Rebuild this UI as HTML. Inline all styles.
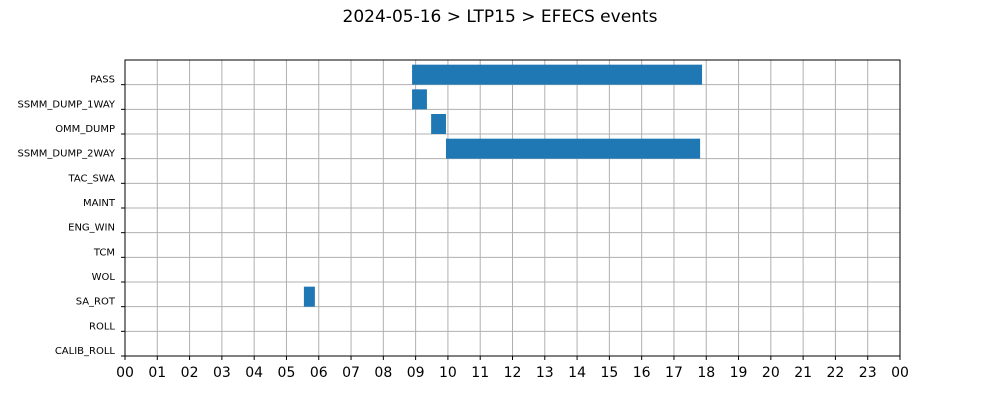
<!DOCTYPE html>
<html><head><meta charset="utf-8"><style>
body{margin:0;background:#fff;font-family:"Liberation Sans","DejaVu Sans",sans-serif;}
</style></head><body>
<svg id="chart" width="1000" height="400" xmlns="http://www.w3.org/2000/svg">
<text x="500" y="22" text-anchor="middle" font-size="17" font-family="DejaVu Sans, Liberation Sans, sans-serif">2024-05-16 &gt; LTP15 &gt; EFECS events</text>
<g id="grid"></g><g id="bars"></g><g id="axes"></g>
</svg>
<script>
const categories=["PASS","SSMM_DUMP_1WAY","OMM_DUMP","SSMM_DUMP_2WAY","TAC_SWA","MAINT","ENG_WIN","TCM","WOL","SA_ROT","ROLL","CALIB_ROLL"];
const eventCats=["PASS","SSMM_DUMP_1WAY","OMM_DUMP","SSMM_DUMP_2WAY","SA_ROT"];
const eventStart=[8.89,8.89,9.48,9.94,5.54];
const eventEnd=[17.87,9.35,9.94,17.81,5.88];
const xTicks=["00","01","02","03","04","05","06","07","08","09","10","11","12","13","14","15","16","17","18","19","20","21","22","23","00"];
const NS="http://www.w3.org/2000/svg";
const L=125,R=900,T=60,B=356;
const x=h=>L+(R-L)*h/24;
const step=(B-T)/categories.length;
const yTick=i=>T+step*(i+1);
function mk(tag,attrs,parent){const e=document.createElementNS(NS,tag);for(const k in attrs)e.setAttribute(k,attrs[k]);document.getElementById(parent).appendChild(e);return e;}
xTicks.forEach((t,i)=>{
 const l=mk("line",{x1:x(i),x2:x(i),y1:T,y2:B,stroke:"#b0b0b0","stroke-width":1},"grid");
 
 
 const tk=mk("line",{x1:x(i),x2:x(i),y1:B,y2:B+4,stroke:"#000"},"axes");
 
 
 const tx=mk("text",{x:x(i),y:B+21,"text-anchor":"middle","font-size":14,"font-family":"DejaVu Sans, Liberation Sans, sans-serif"},"axes");
 tx.textContent=t;
 
 
});
categories.forEach((c,i)=>{
 const y=yTick(i);
 const l=mk("line",{x1:L,x2:R,y1:y,y2:y,stroke:"#b0b0b0","stroke-width":1},"grid");
 
 
 const tk=mk("line",{x1:L-4,x2:L,y1:y,y2:y,stroke:"#000"},"axes");
 
 
 const tx=mk("text",{x:L-10,y:y-2,"text-anchor":"end","font-size":10,"font-family":"DejaVu Sans, Liberation Sans, sans-serif"},"axes");
 tx.textContent=c;
 
 
});
eventCats.forEach((c,j)=>{
 const i=categories.indexOf(c);const y=yTick(i);
 const r=mk("rect",{x:x(eventStart[j]),y:y-20,width:x(eventEnd[j])-x(eventStart[j]),height:20,fill:"#1f77b4"},"bars");
 
 
});
const f=mk("rect",{x:L,y:T,width:R-L,height:B-T,fill:"none",stroke:"#000","stroke-width":1},"axes");


</script>
</body></html>
